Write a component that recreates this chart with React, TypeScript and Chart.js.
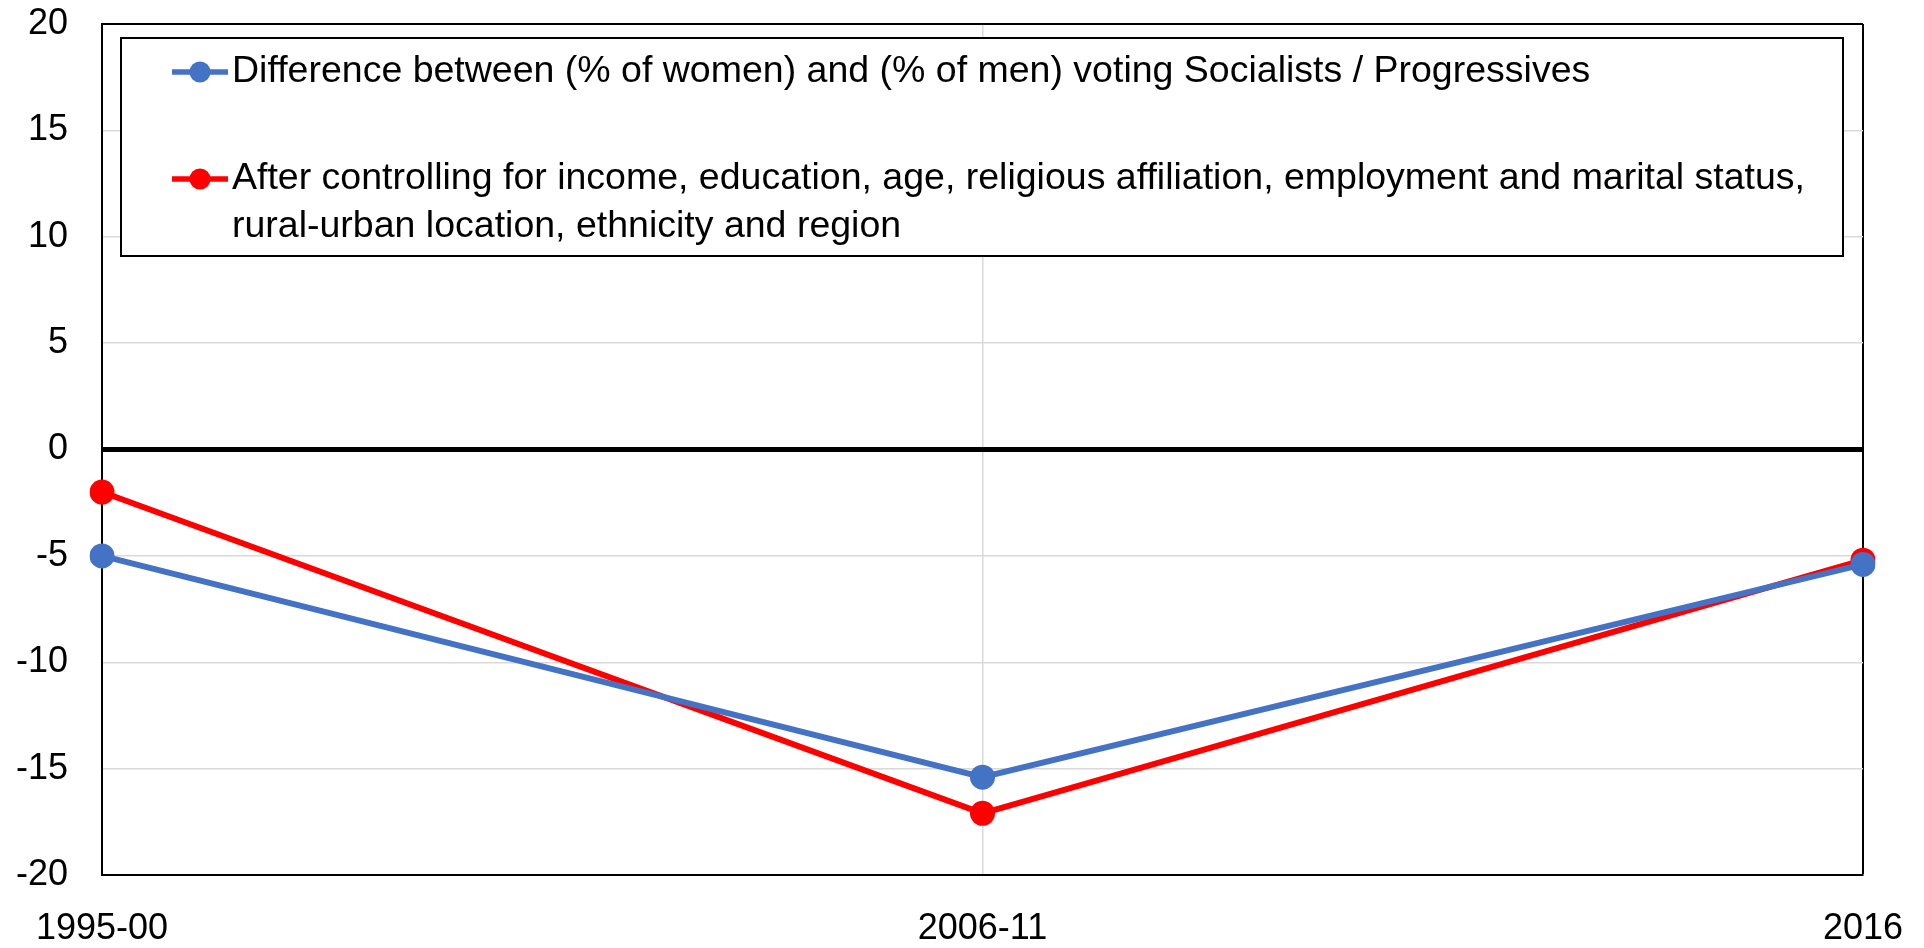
import React, { useEffect, useRef } from "react";
import { Chart, registerables } from "chart.js";

Chart.register(...registerables);

const categories = ["1995-00", "2006-11", "2016"];
const rawGap = [-5.0, -15.4, -5.4];
const controlledGap = [-2.0, -17.1, -5.2];
const seriesNames = [
  "Difference between (% of women) and (% of men) voting Socialists / Progressives",
  "After controlling for income, education, age, religious affiliation, employment and marital status, rural-urban location, ethnicity and region",
];
const legendLines = [
  ["Difference between (% of women) and (% of men) voting Socialists / Progressives"],
  [
    "After controlling for income, education, age, religious affiliation, employment and marital status,",
    "rural-urban location, ethnicity and region",
  ],
];
const yTicks = [-20, -15, -10, -5, 0, 5, 10, 15, 20];

const FONT = "'Liberation Sans', Arial, Helvetica, sans-serif";
const BLUE = "#4472C4";
const RED = "#FF0000";
const colors = [BLUE, RED];

const legendPlugin = {
  id: "customLegend",
  afterDraw(chart: any) {
    const { ctx, chartArea } = chart;
    const left = chartArea.left + 19;
    const top = chartArea.top + 14;
    const right = chartArea.right - 20;
    const bottom = top + 218;
    ctx.save();
    ctx.fillStyle = "#ffffff";
    ctx.fillRect(left, top, right - left, bottom - top);
    ctx.strokeStyle = "#000000";
    ctx.lineWidth = 2;
    ctx.strokeRect(left, top, right - left, bottom - top);
    const rowY = [top + 34, top + 141];
    const lineH = 48;
    ctx.font = `37.5px ${FONT}`;
    ctx.textBaseline = "middle";
    ctx.textAlign = "left";
    legendLines.forEach((lines, i) => {
      const y = rowY[i];
      ctx.strokeStyle = colors[i];
      ctx.lineWidth = 5.5;
      ctx.beginPath();
      ctx.moveTo(left + 51, y);
      ctx.lineTo(left + 107, y);
      ctx.stroke();
      ctx.fillStyle = colors[i];
      ctx.beginPath();
      ctx.arc(left + 79, y, 10.5, 0, Math.PI * 2);
      ctx.fill();
      ctx.fillStyle = "#000000";
      lines.forEach((t, j) => {
        ctx.fillText(t, left + 111, y + j * lineH);
      });
    });
    ctx.restore();
  },
};

export default function App() {
  const ref = useRef<HTMLCanvasElement | null>(null);
  useEffect(() => {
    if (!ref.current) return;
    const chart = new Chart(ref.current, {
      type: "line",
      data: {
        labels: categories,
        datasets: [rawGap, controlledGap].map((d, i) => ({
          label: seriesNames[i],
          data: d,
          borderColor: colors[i],
          backgroundColor: colors[i],
          borderWidth: 6,
          pointRadius: 12.5,
          pointHoverRadius: 12.5,
          pointBorderWidth: 0,
          pointBackgroundColor: colors[i],
          tension: 0,
          fill: false,
        })),
      },
      options: {
        responsive: false,
        animation: false,
        devicePixelRatio: 1,
        layout: { padding: { left: 0, top: 24, right: 61, bottom: 0 } },
        plugins: {
          legend: { display: false },
          tooltip: { enabled: false },
          title: { display: false },
        },
        scales: {
          x: {
            type: "category",
            offset: false,
            afterFit: (s: any) => {
              s.height = 73;
            },
            border: { display: true, color: "#000000", width: 2 },
            grid: {
              drawTicks: true,
              tickLength: 32,
              tickColor: "rgba(0,0,0,0)",
              color: (c: any) => (c.index === categories.length - 1 ? "#000000" : "#d9d9d9"),
              lineWidth: (c: any) => (c.index === categories.length - 1 ? 2 : 1.5),
            },
            ticks: {
              padding: 0,
              color: "#000000",
              font: { size: 36, family: FONT },
              maxRotation: 0,
              autoSkip: false,
            },
          },
          y: {
            min: yTicks[0],
            max: yTicks[yTicks.length - 1],
            afterFit: (s: any) => {
              s.width = 102;
            },
            afterBuildTicks: (s: any) => {
              s.ticks = yTicks.map((v) => ({ value: v }));
            },
            border: { display: true, color: "#000000", width: 2 },
            grid: {
              drawTicks: true,
              tickLength: 34,
              tickColor: "rgba(0,0,0,0)",
              color: (c: any) =>
                c.tick && (c.tick.value === 0 || c.tick.value === 20) ? "#000000" : "#d9d9d9",
              lineWidth: (c: any) =>
                c.tick && c.tick.value === 0 ? 5 : c.tick && c.tick.value === 20 ? 2 : 1.5,
            },
            ticks: {
              padding: 0,
              color: "#000000",
              font: { size: 36, family: FONT },
              callback: (v: any) => String(v),
            },
          },
        },
      },
      plugins: [legendPlugin],
    });
    return () => chart.destroy();
  }, []);
  return (
    <div style={{ position: "absolute", left: 0, top: 0, width: 1924, height: 948, background: "#fff" }}>
      <canvas ref={ref} width={1924} height={948} style={{ display: "block" }} />
    </div>
  );
}
